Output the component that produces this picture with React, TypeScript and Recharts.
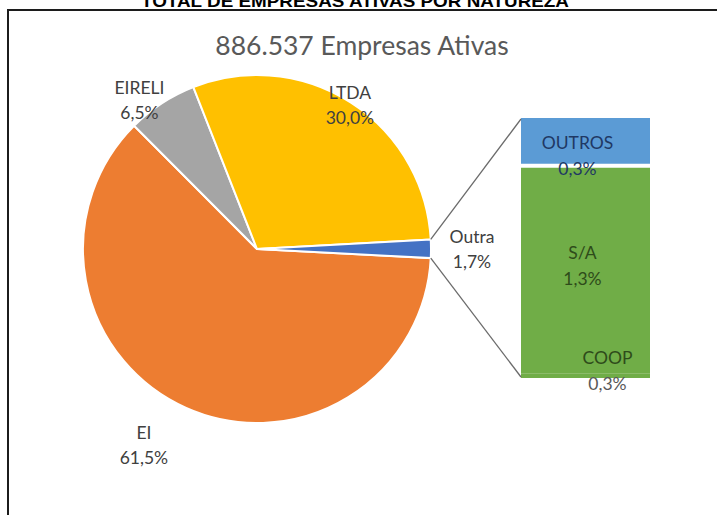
import React from 'react';
import { PieChart, Pie, Cell, BarChart, Bar, XAxis, YAxis } from 'recharts';

// ---- data ----
const pageTitle = 'TOTAL DE EMPRESAS ATIVAS POR NATUREZA';
const subtitle = '886.537 Empresas Ativas';
const pieNames = ['EI', 'EIRELI', 'LTDA', 'Outra'];
const pieValues = [61.5, 6.5, 30.0, 1.7];
const pieLabels = ['61,5%', '6,5%', '30,0%', '1,7%'];
const barNames = ['COOP', 'S/A', 'OUTROS'];
const barValues = [0.03, 1.3, 0.3];
const barLabels = ['0,3%', '1,3%', '0,3%'];

// ---- layout / style ----
const W = 717;
const H = 515;
const CX = 257;
const CY = 249;
const R = 174;
const START = -3;
const PIE_COLORS = ['#ED7D31', '#A5A5A5', '#FFC000', '#4472C4'];
const PIE_TEXT = ['#404040', '#404040', '#404040', '#404040'];
// label placement: angle shift from slice mid angle, radius from centre
const PIE_LABEL_POS = [
  { da: -6, r: 226 },
  { da: 5, r: 190 },
  { da: 0, r: 172 },
  { da: 0, r: 215 },
];
const BAR_COLORS = ['#70AD47', '#70AD47', '#5B9BD5'];
const BAR_NAME_COLORS = ['#2E4B1A', '#2E4B1A', '#1F3864'];
const BAR_VALUE_COLORS = ['#595959', '#2E4B1A', '#1F3864'];
const BAR_LABEL_POS = [
  { dx: 22, dy: -18 },
  { dx: -3, dy: -17 },
  { dx: -8, dy: 1 },
];
const BAR_BOX = { left: 521, top: 118, right: 650, bottom: 378 };
const FONT = 'Lato, "Open Sans", sans-serif';
const LABEL_SIZE = 17.5;

const pieData = pieNames.map((name, i) => ({ name, value: pieValues[i], label: pieLabels[i] }));
const barRow: Record<string, any> = { cat: 'Outra' };
barNames.forEach((n, i) => {
  barRow[n] = barValues[i];
});
const barData = [barRow];
const barTotal = barValues.reduce((a, b) => a + b, 0);
const pieTotal = pieValues.reduce((a, b) => a + b, 0);

const RAD = Math.PI / 180;

// angles of the "Outra" slice (last slice, clockwise)
const outraIndex = pieNames.length - 1;
const sumBefore = pieValues.slice(0, outraIndex).reduce((a, b) => a + b, 0);
const outraStart = START - (sumBefore / pieTotal) * 360;
const outraEnd = START - 360;
const pt = (ang: number, r: number) => ({ x: CX + r * Math.cos(ang * RAD), y: CY - r * Math.sin(ang * RAD) });
const outraTop = pt(outraStart, R);
const outraBottom = pt(outraEnd, R);

const renderPieLabel = (props: any) => {
  const { cx, cy, midAngle, index } = props;
  const pos = PIE_LABEL_POS[index];
  const a = (midAngle + pos.da) * RAD;
  const x = cx + pos.r * Math.cos(a);
  const y = cy - pos.r * Math.sin(a);
  return (
    <g key={`pl-${index}`}>
      <text x={x} y={y - 12} textAnchor="middle" dominantBaseline="central" fill={PIE_TEXT[index]} fontFamily={FONT} fontSize={LABEL_SIZE}>
        {pieData[index].name}
      </text>
      <text x={x} y={y + 13} textAnchor="middle" dominantBaseline="central" fill={PIE_TEXT[index]} fontFamily={FONT} fontSize={LABEL_SIZE}>
        {pieData[index].label}
      </text>
    </g>
  );
};

const makeBarLabel = (i: number) => (props: any) => {
  const { x, y, width, height } = props;
  const cx = x + width / 2 + BAR_LABEL_POS[i].dx;
  const cy = y + height / 2 + BAR_LABEL_POS[i].dy;
  return (
    <g key={`bl-${i}`}>
      <text x={cx} y={cy} textAnchor="middle" dominantBaseline="central" fill={BAR_NAME_COLORS[i]} fontFamily={FONT} fontSize={LABEL_SIZE}>
        {barNames[i]}
      </text>
      <text x={cx} y={cy + 26} textAnchor="middle" dominantBaseline="central" fill={BAR_VALUE_COLORS[i]} fontFamily={FONT} fontSize={LABEL_SIZE}>
        {barLabels[i]}
      </text>
    </g>
  );
};

// top segment: filled rect with a white separator along its lower edge
const topSegmentShape = (props: any) => {
  const { x, y, width, height, fill } = props;
  return (
    <g>
      <rect x={x} y={y} width={width} height={height} fill={fill} />
      <line x1={x} y1={y + height} x2={x + width} y2={y + height} stroke="#ffffff" strokeWidth={4} />
    </g>
  );
};

export default function App() {
  return (
    <div style={{ position: 'absolute', left: 0, top: 0, width: W, height: H, overflow: 'hidden', background: '#fff' }}>
      <div
        style={{
          position: 'absolute',
          left: 7,
          top: 9,
          width: W + 20,
          height: H + 20,
          borderLeft: '2px solid #1c1c1c',
          borderTop: '2px solid #1c1c1c',
        }}
      />
      <div style={{ position: 'absolute', left: 0, top: 0 }}>
        <PieChart width={W} height={H} margin={{ top: 0, right: 0, bottom: 0, left: 0 }}>
          <Pie
            data={pieData}
            dataKey="value"
            nameKey="name"
            cx={CX}
            cy={CY}
            outerRadius={R}
            startAngle={START}
            endAngle={START - 360}
            stroke="#ffffff"
            strokeWidth={2}
            label={renderPieLabel}
            labelLine={false}
            isAnimationActive={false}
          >
            {pieData.map((d, i) => (
              <Cell key={d.name} fill={PIE_COLORS[i]} />
            ))}
          </Pie>
        </PieChart>
      </div>
      <div style={{ position: 'absolute', left: 0, top: 0 }}>
        <BarChart
          width={W}
          height={H}
          data={barData}
          margin={{ top: BAR_BOX.top, bottom: H - BAR_BOX.bottom, left: BAR_BOX.left, right: W - BAR_BOX.right }}
          barCategoryGap={0}
        >
          <XAxis dataKey="cat" hide />
          <YAxis hide domain={[0, barTotal]} />
          {barNames.map((n, i) => (
            <Bar
              key={n}
              dataKey={n}
              stackId="a"
              fill={BAR_COLORS[i]}
              shape={i === barNames.length - 1 ? topSegmentShape : undefined}
              label={makeBarLabel(i)}
              isAnimationActive={false}
            />
          ))}
        </BarChart>
      </div>
      <svg width={W} height={H} style={{ position: 'absolute', left: 0, top: 0, pointerEvents: 'none' }}>
        <text
          x={355}
          y={7}
          textAnchor="middle"
          fontFamily='"Liberation Sans", Arial, sans-serif'
          fontWeight="bold"
          fontSize={17}
          fill="#000"
          textLength={428}
          lengthAdjust="spacingAndGlyphs"
        >
          {pageTitle}
        </text>
        <text x={362} y={55} textAnchor="middle" fontFamily={FONT} fontSize={26.5} fill="#595959">
          {subtitle}
        </text>
        <line x1={outraTop.x} y1={outraTop.y} x2={BAR_BOX.left} y2={BAR_BOX.top + 1} stroke="#6b6b6b" strokeWidth={1.3} />
        <line x1={outraBottom.x} y1={outraBottom.y} x2={BAR_BOX.left} y2={BAR_BOX.bottom - 1} stroke="#6b6b6b" strokeWidth={1.3} />
      </svg>
    </div>
  );
}
